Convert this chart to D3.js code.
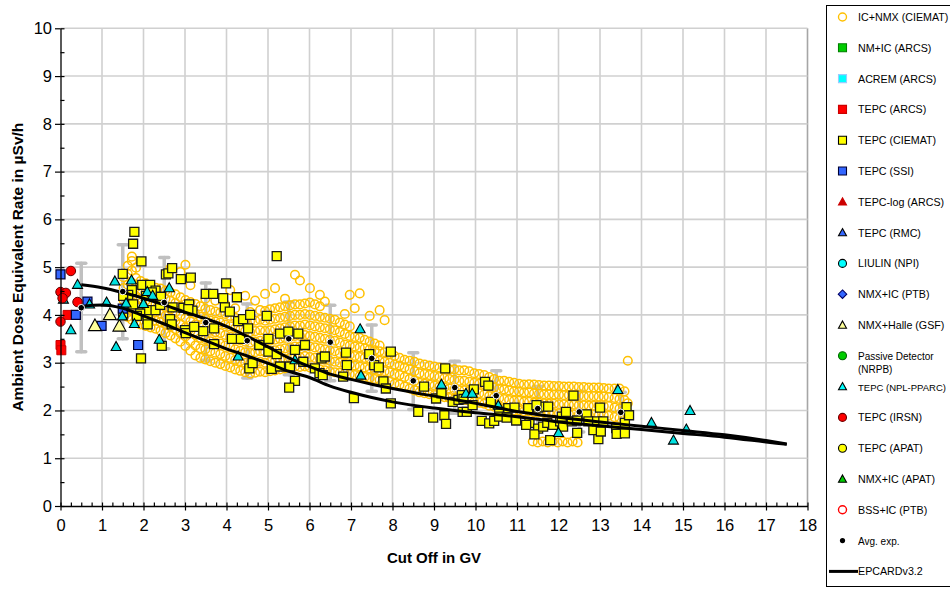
<!DOCTYPE html>
<html><head><meta charset="utf-8">
<script src="https://cdn.jsdelivr.net/npm/d3@7"></script>
<style>
html,body{margin:0;padding:0;background:#fff;}
svg{display:block;font-family:"Liberation Sans",Arial,Helvetica,sans-serif;}
</style></head><body>
<svg id="chart" width="950" height="589"></svg>
<script>
// ---------- axes ----------
const xTickValues = [0,1,2,3,4,5,6,7,8,9,10,11,12,13,14,15,16,17,18];
const yTickValues = [0,1,2,3,4,5,6,7,8,9,10];
const xAxisTitle = "Cut Off in GV";
const yAxisTitle = "Ambient Dose Equivalent Rate in µSv/h";

// ---------- IC+NMX (CIEMAT): columns of [cut-off, [dose rates]] ----------
const icNmxCols = [
[1.52,[4.05,4.31,4.56,4.79]],
[1.62,[3.96,4.14,4.40,4.63,4.86,5.03]],
[1.72,[3.90,4.09,4.27,4.46,4.67,4.93,5.13,5.22]],
[1.82,[3.84,4.03,4.21,4.39,4.58,4.77,4.99]],
[1.93,[3.80,3.98,4.16,4.33,4.51,4.71]],
[2.05,[3.77,3.95,4.13,4.30,4.48,4.66]],
[2.17,[3.74,3.92,4.09,4.27,4.44,4.61]],
[2.29,[3.71,3.88,4.05,4.23,4.41,4.57]],
[2.41,[3.67,3.85,4.03,4.20,4.38,4.55]],
[2.53,[3.62,3.80,3.98,4.16,4.34,4.51]],
[2.65,[3.57,3.76,3.94,4.12,4.30,4.47,4.98]],
[2.77,[3.51,3.70,3.88,4.06,4.25,4.43]],
[2.89,[3.44,3.62,3.81,3.99,4.18,4.37,4.90]],
[3.01,[3.35,3.55,3.74,3.93,4.12,4.31,5.05]],
[3.13,[3.25,3.45,3.66,3.86,4.06,4.27,4.62]],
[3.25,[3.15,3.36,3.58,3.80,4.02,4.23]],
[3.37,[3.10,3.30,3.52,3.74,3.96,4.18]],
[3.49,[3.07,3.28,3.49,3.70,3.92,4.13,4.34]],
[3.61,[3.03,3.24,3.45,3.67,3.88,4.10]],
[3.73,[3.00,3.21,3.42,3.64,3.86,4.07,4.30]],
[3.85,[2.97,3.18,3.40,3.62,3.84,4.05]],
[3.97,[2.93,3.14,3.36,3.58,3.80,4.02,4.22]],
[4.09,[2.90,3.10,3.32,3.54,3.76,3.98,4.52]],
[4.21,[2.86,3.06,3.28,3.50,3.72,3.94,4.14]],
[4.33,[2.83,3.03,3.25,3.47,3.69,3.91]],
[4.45,[2.80,3.00,3.22,3.44,3.66,3.88,4.40]],
[4.57,[2.77,2.98,3.20,3.42,3.64,3.86,4.06]],
[4.69,[2.79,3.00,3.22,3.44,3.66,3.88,4.30]],
[4.81,[2.81,3.02,3.24,3.46,3.68,3.90,4.10]],
[4.93,[2.80,3.00,3.22,3.44,3.66,3.88,4.08,4.44]],
[5.05,[2.82,3.02,3.24,3.46,3.68,3.90,4.12]],
[5.17,[2.84,3.04,3.26,3.48,3.70,3.92,4.14,4.56]],
[5.29,[2.86,3.06,3.28,3.50,3.72,3.94,4.16]],
[5.41,[2.88,3.08,3.30,3.52,3.74,3.96,4.18,4.34]],
[5.53,[2.90,3.10,3.32,3.54,3.76,3.98,4.20]],
[5.65,[2.92,3.12,3.34,3.56,3.78,4.00,4.22,4.84]],
[5.77,[2.91,3.12,3.34,3.56,3.78,4.00,4.22,4.72]],
[5.89,[2.92,3.14,3.36,3.58,3.80,4.02,4.24]],
[6.01,[2.90,3.12,3.34,3.56,3.78,4.00,4.26,4.56]],
[6.13,[2.88,3.10,3.32,3.54,3.76,3.98,4.22]],
[6.25,[2.86,3.08,3.30,3.52,3.74,3.96,4.18,4.42]],
[6.37,[2.84,3.06,3.28,3.50,3.72,3.94,4.28]],
[6.49,[2.82,3.04,3.26,3.48,3.70,3.92]],
[6.61,[2.80,3.02,3.24,3.46,3.68,3.90]],
[6.73,[2.79,3.00,3.20,3.42,3.64,3.84]],
[6.85,[2.78,2.98,3.18,3.38,3.60,3.80,4.02]],
[6.97,[2.76,2.96,3.16,3.36,3.56,3.76,4.42]],
[7.09,[2.74,2.94,3.14,3.34,3.54,4.14]],
[7.21,[2.72,2.92,3.12,3.32,3.52,4.45]],
[7.33,[2.70,2.90,3.10,3.30,3.48]],
[7.45,[2.68,2.88,3.08,3.28,3.44,3.98]],
[7.57,[2.66,2.86,3.06,3.26,3.40]],
[7.69,[2.64,2.84,3.04,3.24,3.36,4.10]],
[7.81,[2.62,2.82,3.02,3.22,3.89]],
[7.93,[2.60,2.80,3.00,3.18]],
[8.05,[2.56,2.76,2.96,3.14]],
[8.17,[2.54,2.74,2.94,3.10]],
[8.29,[2.50,2.70,2.90,3.06]],
[8.41,[2.46,2.66,2.86,3.04]],
[8.53,[2.42,2.62,2.82,3.02]],
[8.65,[2.38,2.58,2.78,2.98]],
[8.77,[2.36,2.56,2.76,2.96]],
[8.89,[2.34,2.54,2.74,2.94]],
[9.01,[2.32,2.52,2.72,2.92]],
[9.13,[2.30,2.50,2.70,2.90]],
[9.25,[2.28,2.48,2.68,2.88]],
[9.37,[2.26,2.46,2.66,2.86]],
[9.49,[2.24,2.44,2.64,2.86]],
[9.61,[2.22,2.42,2.62,2.84]],
[9.73,[2.22,2.42,2.62,2.84]],
[9.85,[2.20,2.40,2.60,2.82]],
[9.97,[2.18,2.38,2.58,2.78]],
[10.09,[2.16,2.36,2.56,2.76]],
[10.21,[2.14,2.34,2.54,2.74]],
[10.33,[2.10,2.30,2.50,2.70]],
[10.45,[2.08,2.28,2.48,2.66]],
[10.57,[2.06,2.26,2.46,2.62]],
[10.69,[2.04,2.24,2.44,2.62]],
[10.81,[2.02,2.22,2.42,2.60]],
[10.93,[2.00,2.20,2.40,2.58]],
[11.05,[2.00,2.20,2.40,2.56]],
[11.17,[1.98,2.18,2.38,2.54]],
[11.29,[1.98,2.18,2.38,2.55]],
[11.41,[1.96,2.16,2.36,2.54]],
[11.53,[1.96,2.16,2.35,2.53]],
[11.65,[1.95,2.15,2.34,2.52]],
[11.77,[1.95,2.14,2.34,2.52]],
[11.89,[1.94,2.14,2.33,2.51]],
[12.01,[1.94,2.13,2.33,2.51]],
[12.13,[1.93,2.13,2.32,2.50]],
[12.25,[1.93,2.12,2.32,2.50]],
[12.37,[1.92,2.12,2.31,2.50]],
[12.49,[1.92,2.11,2.31,2.49]],
[12.61,[1.92,2.11,2.30,2.49]],
[12.73,[1.91,2.10,2.30,2.48]],
[12.85,[1.91,2.10,2.30,2.48]],
[12.97,[1.90,2.10,2.29,2.48]],
[13.09,[1.90,2.09,2.29,2.47]],
[13.21,[1.89,2.09,2.28,2.46]],
[13.35,[1.86,2.06,2.26,2.46]],
[13.47,[1.84,2.04,2.24,2.46]],
[13.59,[1.82,2.02,2.22,2.40]],
[13.67,[1.95,2.15,3.04]]
];
const icNmxLowBand = [[11.38,1.35],[11.50,1.33],[11.62,1.35],[11.74,1.33],[11.86,1.35],[11.98,1.33],[12.10,1.35],[12.22,1.33],[12.34,1.35],[12.46,1.33]];

// ---------- TEPC (CIEMAT) ----------
const tepcCiemat = [
[1.78,5.74],[1.75,5.49],[1.95,5.12],[1.50,4.86],[1.72,4.52],[1.97,4.63],[2.16,4.63],[2.29,4.51],
[2.06,4.40],[2.20,4.47],[1.63,4.42],[1.51,4.40],[1.75,4.22],[2.09,4.10],[2.29,4.10],[2.42,4.38],
[2.40,4.21],[2.54,4.85],[2.60,4.87],[2.69,4.98],[2.90,4.75],[3.14,4.78],[2.70,4.16],[2.96,4.15],
[3.10,4.22],[3.18,4.09],[3.08,4.12],[1.51,4.03],[1.92,4.03],[1.84,3.98],[2.10,3.91],[2.10,3.80],
[2.64,3.91],[2.68,3.80],[3.00,3.68],[3.02,3.62],[3.22,3.75],[2.44,3.35],[1.94,3.09],
[3.50,4.44],[3.68,4.44],[3.92,4.35],[3.99,4.66],[4.25,4.37],[3.96,4.16],[4.08,4.07],[4.28,3.87],
[4.40,3.91],[4.57,4.00],[4.97,3.98],[4.52,3.72],[4.33,3.50],[4.13,3.50],[5.01,3.50],[5.29,3.61],
[5.49,3.65],[5.73,3.61],[4.79,3.37],[5.01,3.23],[5.21,3.18],[5.65,3.27],[5.89,3.37],[5.85,3.02],
[5.09,2.87],[5.29,2.92],[5.53,2.92],[5.65,2.62],[5.51,2.48],[4.55,2.88],[4.63,2.99],[5.21,5.23],
[3.70,3.72],[3.44,3.66],[3.70,3.39],
[6.13,2.88],[6.29,3.09],[6.37,3.13],[6.24,2.78],[6.32,2.74],[6.81,2.71],[6.88,3.21],[6.90,2.95],
[7.07,2.26],[7.44,3.18],[7.56,2.95],[7.67,2.90],[7.96,3.23],[7.78,2.61],[7.84,2.46],[7.96,2.15],
[8.62,1.97],[8.76,2.50],[8.98,1.85],[9.05,2.25],[9.18,2.36],[9.25,1.90],[9.27,2.88],[9.29,1.72],
[9.45,2.18],[9.59,2.22],[9.67,2.32],[9.71,2.24],[9.69,1.97],[9.79,1.97],[9.96,2.44],[9.93,2.11],
[10.23,2.60],[10.31,2.52],[10.37,2.18],[10.15,1.78],[10.33,1.73],[10.45,1.78],[10.57,1.97],[10.57,1.87],
[10.77,1.87],[10.79,2.05],[10.94,2.06],[10.98,1.79],[10.75,1.85],
[11.27,2.05],[11.30,1.74],[11.22,1.70],[11.51,2.06],[11.63,2.08],[11.75,2.08],[11.51,1.62],[11.42,1.50],
[11.63,1.66],[11.73,1.74],[11.80,1.38],[11.87,1.70],[12.04,1.77],[12.08,1.87],[12.18,1.97],[12.36,2.31],
[12.11,1.66],[12.32,1.77],[12.45,1.79],[12.45,1.53],[12.68,1.92],[12.72,1.77],[12.84,1.59],[12.93,1.77],
[12.96,1.40],[13.00,2.06],[13.02,1.56],[13.08,1.77],[13.39,1.63],[13.40,1.51],[13.60,1.74],[13.60,1.52],
[13.64,2.07],[13.70,1.90],[11.47,2.11]
];

// ---------- other measurements ----------
const tepcArcs = [[0,3.37],[0.02,3.26],[0.17,4.00]];
const tepcIrsn = [[0,4.48],[0.13,4.46],[0.05,4.35],[0.25,4.92],[0.41,4.27],[0,3.86]];
const tepcSsi = [[0,4.85],[0.37,4.00],[0.65,4.28],[0.99,3.77],[1.50,4.13],[1.87,3.37]];
const nmxHalleGsf = [[0.83,3.78],[1.19,4.01],[1.42,3.77]];
const tepcNplPparc = [
[0.07,4.33],[0.41,4.64],[0.25,3.69],[0.70,4.23],[1.11,4.27],[1.34,3.34],[1.31,4.71],[1.58,4.25],
[1.71,4.73],[1.78,3.82],[1.49,3.98],[2.09,4.49],[2.22,4.41],[2.00,4.24],[2.38,3.49],[2.62,4.57],
[4.28,3.14],[5.65,3.06],[7.22,3.71],[7.24,2.74],[9.18,2.55],[9.77,2.36],[9.92,2.36],[10.55,2.11],
[12.00,1.54],[13.43,2.44],[14.24,1.75],[14.77,1.38],[15.08,1.61],[15.17,2.00]
];

// ---------- averaged experimental values ----------
const avgX    = [0.5,1.5,2.5,3.5,4.5,5.5,6.5,7.5,8.5,9.5,10.5,11.5,12.5,13.5];
const avgY    = [4.15,4.49,4.26,3.84,3.46,3.50,3.43,3.09,2.62,2.48,2.31,2.04,1.97,1.96];
const avgLow  = [3.23,3.50,3.29,3.05,2.68,2.75,2.62,2.40,2.02,1.94,1.80,1.60,1.55,1.55];
const avgHigh = [5.08,5.47,5.20,4.67,4.23,4.27,4.20,3.79,3.21,3.03,2.83,2.50,2.40,2.38];

// ---------- EPCARD v3.2 calculations ----------
const epcardX     = [0.5,1,1.5,2,2.5,3,3.5,4,4.5,5,5.5,6,6.5,7,7.5,8,9,10,11,12,13,14,15,16,17,17.5];
const epcardUpper = [4.63,4.57,4.47,4.35,4.21,4.06,3.92,3.76,3.55,3.33,3.10,2.92,2.76,2.65,2.55,2.46,2.30,2.15,1.98,1.86,1.76,1.67,1.58,1.49,1.37,1.30];
const epcardLower = [4.18,4.21,4.14,3.98,3.81,3.63,3.46,3.29,3.14,2.99,2.82,2.69,2.51,2.38,2.27,2.18,2.05,1.95,1.87,1.76,1.68,1.60,1.52,1.44,1.34,1.29];

// ---------- legend ----------
const legendLabels = ["IC+NMX (CIEMAT)","NM+IC (ARCS)","ACREM (ARCS)","TEPC (ARCS)","TEPC (CIEMAT)","TEPC (SSI)",
  "TEPC-log (ARCS)","TEPC (RMC)","LIULIN (NPI)","NMX+IC (PTB)","NMX+Halle (GSF)","Passive Detector|(NRPB)",
  "TEPC (NPL-PPARC)","TEPC (IRSN)","TEPC (APAT)","NMX+IC (APAT)","BSS+IC (PTB)","Avg. exp.","EPCARDv3.2"];
const legendSymbols = ["ring","square","square","square","square","square","triangle","triangle","circle","diamond",
  "triangle","circle","triangle","circle","circle","triangle","ring","dot","line"];
const legendFills = ["none","#00cc00","#00ffff","#ff0000","#ffff00","#3366ff","#cc0000","#3366ff","#00ffff","#3366ff",
  "#ffff99","#00cc00","#00ffff","#ff0000","#ffff00","#00cc00","none","#000","#000"];
const legendStrokes = ["#ffc000","#008000","#99ccff","#cc0000","#000","#000033","#cc0000","#000","#000","#000066",
  "#000","#006600","#000","#660000","#000","#000","#ff0000","#000","#000"];

// ---------- layout ----------
const svg = d3.select("#chart");
const x = d3.scaleLinear().domain([0,18]).range([60.5,807.5]);
const y = d3.scaleLinear().domain([0,10]).range([506,28.3]);

// symbol paths
function symbolPath(type, s){
  const h = s/2;
  if(type==="square") return `M${-h},${-h}H${h}V${h}H${-h}Z`;
  if(type==="triangle") return `M0,${-h}L${h},${h*0.8}L${-h},${h*0.8}Z`;
  if(type==="diamond") return `M0,${-h}L${h},0L0,${h}L${-h},0Z`;
  return d3.arc()({innerRadius:0,outerRadius:h,startAngle:0,endAngle:2*Math.PI});
}

// grid
const grid = svg.append("g");
grid.selectAll(".gx").data(xTickValues.slice(1)).join("line")
  .attr("x1",d=>x(d)).attr("x2",d=>x(d)).attr("y1",y(10)).attr("y2",y(0))
  .attr("stroke",d=>d===18?"#a6a6a6":"#d0d0d0").attr("stroke-width",1.6);
grid.selectAll(".gy").data(yTickValues.slice(1)).join("line")
  .attr("x1",x(0)).attr("x2",x(18)).attr("y1",d=>y(d)).attr("y2",d=>y(d))
  .attr("stroke","#d0d0d0").attr("stroke-width",1.6);

// error bars of averaged values
const eb = svg.append("g").attr("stroke","#c0c0c0").attr("stroke-width",3.5).attr("stroke-linecap","round");
avgX.forEach((xv,i)=>{
  eb.append("line").attr("x1",x(xv)).attr("x2",x(xv)).attr("y1",y(avgLow[i])).attr("y2",y(avgHigh[i]));
  [avgLow[i],avgHigh[i]].forEach(v=>eb.append("line").attr("x1",x(xv)-4.5).attr("x2",x(xv)+4.5).attr("y1",y(v)).attr("y2",y(v)));
});

// IC+NMX rings
const icPts = [];
icNmxCols.forEach(([xv,ys])=>ys.forEach(v=>icPts.push([xv,v])));
icNmxLowBand.forEach(p=>icPts.push(p));
svg.append("g").selectAll("circle").data(icPts).join("circle")
  .attr("cx",d=>x(d[0])).attr("cy",d=>y(d[1])).attr("r",4.3)
  .attr("fill","none").attr("stroke","#ffc000").attr("stroke-width",1.5);

function drawSeries(data, type, size, fill, stroke, sw){
  svg.append("g").selectAll("path").data(data).join("path")
    .attr("transform",d=>`translate(${x(d[0])},${y(d[1])})`)
    .attr("d",symbolPath(type,size))
    .attr("fill",fill).attr("stroke",stroke).attr("stroke-width",sw);
}
drawSeries(tepcCiemat,"square",9,"#ffff00","#1a1a1a",1.3);
drawSeries(tepcArcs,"square",9,"#ff0000","#cc0000",1);
drawSeries(tepcSsi,"square",9,"#3366ff","#000033",1.2);
drawSeries(nmxHalleGsf,"triangle",13,"#ffff99","#000",1.1);
drawSeries(tepcNplPparc,"triangle",10,"#00e0e0","#000",1.1);
drawSeries(tepcIrsn,"circle",9.5,"#ff0000","#660000",1);

// EPCARD curves
const line = d3.line().x(d=>x(d[0])).y(d=>y(d[1])).curve(d3.curveMonotoneX);
[epcardUpper,epcardLower].forEach(vals=>{
  svg.append("path").attr("d",line(epcardX.map((xv,i)=>[xv,vals[i]])))
    .attr("fill","none").attr("stroke","#000").attr("stroke-width",3);
});

// averaged values
svg.append("g").selectAll("circle").data(avgX.map((xv,i)=>[xv,avgY[i]])).join("circle")
  .attr("cx",d=>x(d[0])).attr("cy",d=>y(d[1])).attr("r",3.3)
  .attr("fill","#000").attr("stroke","#fff").attr("stroke-width",1);

// axes
const tickFont = g=>g.selectAll("text").attr("font-size",16.5).attr("fill","#000")
  .attr("font-family","'Liberation Sans',Arial,sans-serif");
svg.append("g").attr("transform",`translate(${x(0)},0)`)
  .call(d3.axisLeft(y).tickValues(yTickValues).tickSizeInner(5.5).tickSizeOuter(0).tickPadding(3))
  .call(g=>g.select(".domain").attr("stroke","#000").attr("stroke-width",1.3))
  .call(g=>g.selectAll(".tick line").attr("stroke-width",1.2))
  .call(tickFont);
svg.append("g").attr("transform",`translate(${x(0)},0)`)
  .call(d3.axisRight(y).tickValues(yTickValues.concat(yTickValues.slice(0,-1).map(v=>v+0.5))).tickSize(4).tickFormat(""))
  .call(g=>g.select(".domain").remove())
  .call(g=>g.selectAll(".tick line").attr("stroke-width",1.2));
svg.append("g").attr("transform",`translate(0,${y(0)})`)
  .call(d3.axisBottom(x).tickValues(xTickValues).tickSizeInner(4.5).tickSizeOuter(0).tickPadding(9))
  .call(g=>g.select(".domain").attr("stroke","#000").attr("stroke-width",1.3))
  .call(g=>g.selectAll(".tick line").attr("stroke-width",1.2))
  .call(tickFont);
const minorX = [];
xTickValues.slice(0,-1).forEach(v=>{minorX.push(v,v+0.25,v+0.5,v+0.75);});
svg.append("g").attr("transform",`translate(0,${y(0)})`)
  .call(d3.axisTop(x).tickValues(minorX.concat([18])).tickSize(3.5).tickFormat(""))
  .call(g=>g.select(".domain").remove())
  .call(g=>g.selectAll(".tick line").attr("stroke-width",1.2));

// axis titles
svg.append("text").attr("x",(x(0)+x(18))/2).attr("y",563).attr("text-anchor","middle")
  .attr("font-size",15).attr("font-weight","bold").text(xAxisTitle);
svg.append("text").attr("transform",`translate(23,${(y(0)+y(10))/2}) rotate(-90)`).attr("text-anchor","middle")
  .attr("font-size",15.5).attr("font-weight","bold").text(yAxisTitle);

// legend
const lg = svg.append("g");
lg.append("rect").attr("x",826.5).attr("y",5.5).attr("width",200).attr("height",581)
  .attr("fill","#fff").attr("stroke","#000").attr("stroke-width",1);
legendLabels.forEach((lab,i)=>{
  const cy = 17 + i*30.8;
  const t = legendSymbols[i];
  if(t==="line"){
    lg.append("line").attr("x1",829).attr("x2",858).attr("y1",cy).attr("y2",cy).attr("stroke","#000").attr("stroke-width",3);
  } else if(t==="dot"){
    lg.append("circle").attr("cx",842.5).attr("cy",cy).attr("r",2.6).attr("fill","#000");
  } else if(t==="ring"){
    lg.append("circle").attr("cx",842.5).attr("cy",cy).attr("r",4).attr("fill","none")
      .attr("stroke",legendStrokes[i]).attr("stroke-width",1.4);
  } else {
    lg.append("path").attr("transform",`translate(842.5,${cy})`)
      .attr("d",symbolPath(t, t==="diamond"?8.5:8)).attr("fill",legendFills[i])
      .attr("stroke",legendStrokes[i]).attr("stroke-width",1.1);
  }
  const parts = lab.split("|");
  const small = parts.length>1 || lab==="Avg. exp.";
  // the longest label is set a little smaller so it stays inside the visible box
  const fs = small ? 10 : (lab.length > 15 ? 9.5 : 10.7);
  parts.forEach((p,k)=>{
    lg.append("text").attr("x",858).attr("y",cy + 4 + k*13)
      .attr("font-size",fs).attr("fill","#000").text(p);
  });
});
</script>
</body></html>
